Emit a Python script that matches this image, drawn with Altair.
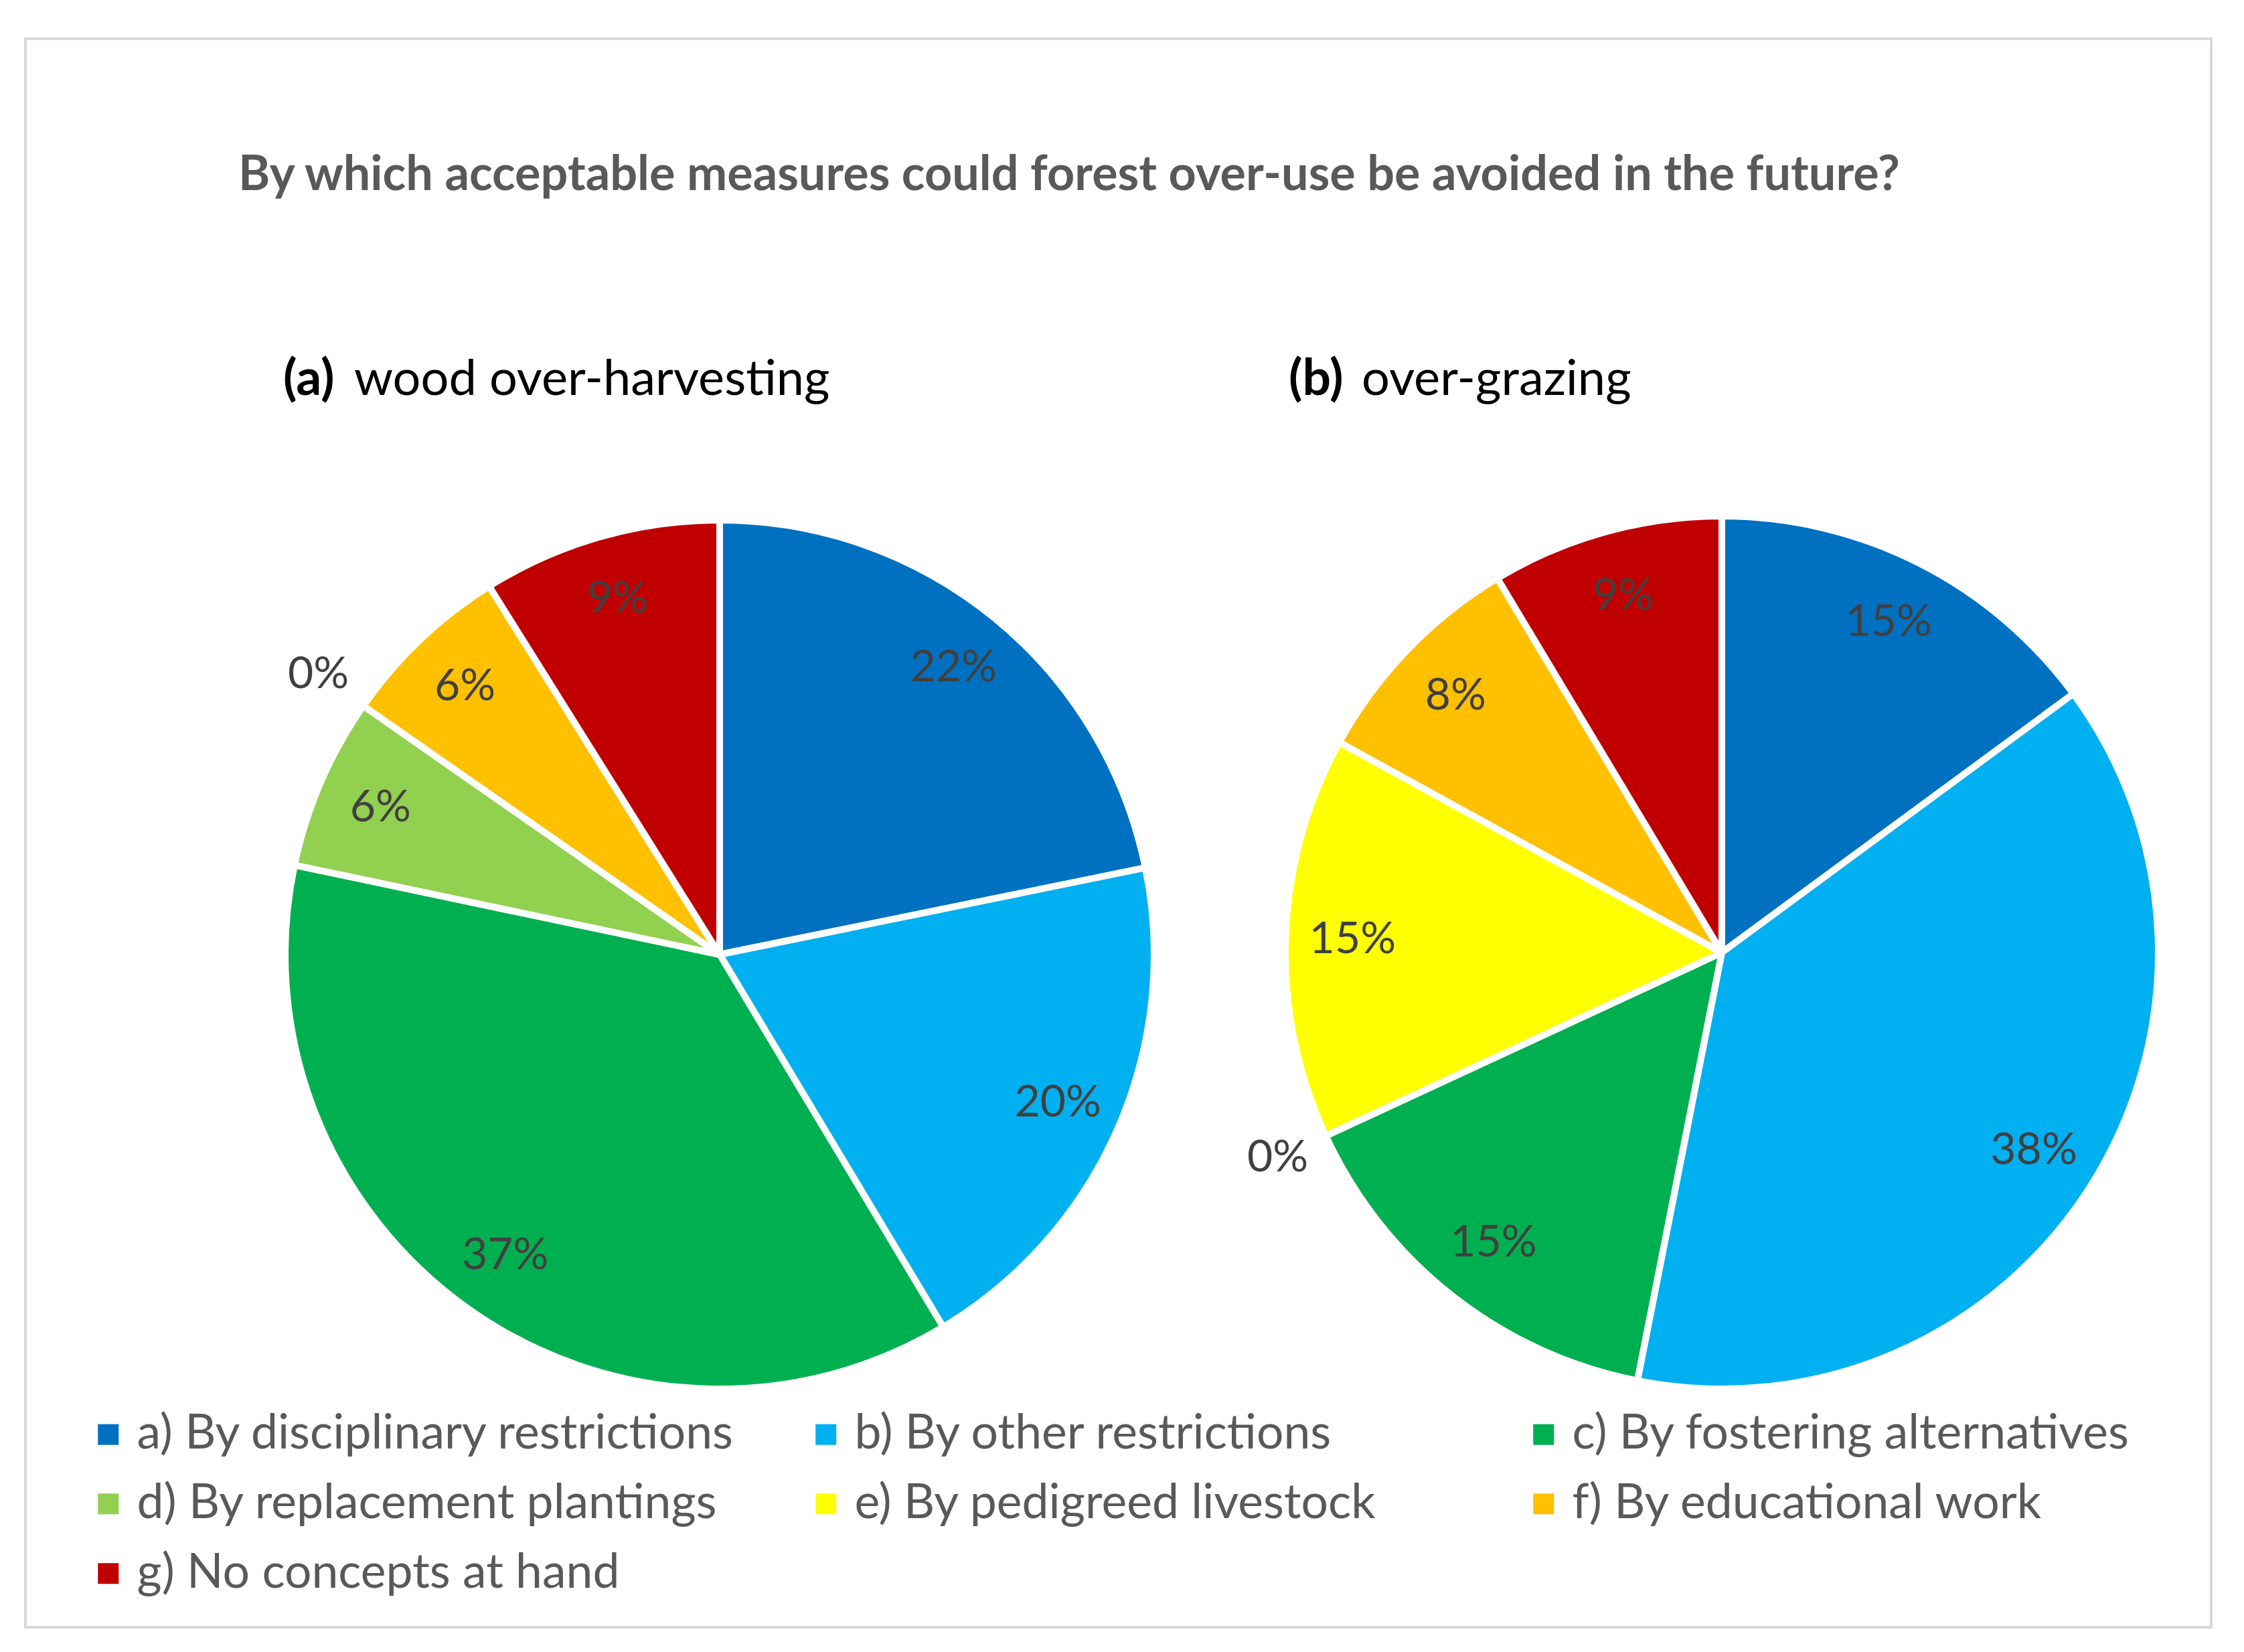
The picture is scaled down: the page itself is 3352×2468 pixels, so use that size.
import altair as alt
import pandas as pd

# ---- data ----
cat_keys = ["a", "b", "c", "d", "e", "f", "g"]
cat_names = [
    "a) By disciplinary restrictions",
    "b) By other restrictions",
    "c) By fostering alternatives",
    "d) By replacement plantings",
    "e) By pedigreed livestock",
    "f) By educational work",
    "g) No concepts at hand",
]
cat_colors = ["#0070C0", "#00B0F0", "#00B050", "#92D050", "#FFFF00", "#FFC000", "#C00000"]
wood_values = [21.8, 19.6, 36.9, 6.4, 0, 6.4, 8.9]      # (a) wood over-harvesting, %
grazing_values = [14.9, 38.2, 15.0, 0, 14.9, 8.4, 8.6]  # (b) over-grazing, %

main_title = "By which acceptable measures could forest over-use be avoided in the future?"
sub_tags = ["(a)", "(b)"]
sub_texts = ["wood over-harvesting", "over-grazing"]

FONT = "Lato"

rows = []
for pie, vals in (("a", wood_values), ("b", grazing_values)):
    for i, (k, n, v) in enumerate(zip(cat_keys, cat_names, vals)):
        lab = f"{int(v + 0.5)}%"
        rows.append({
            "pie": pie, "idx": i, "cat": n, "value": v,
            "inlab": lab if v > 0 else "",
            "outlab": lab if v == 0 else "",
        })
df = pd.DataFrame(rows)

color_scale = alt.Scale(domain=cat_names, range=cat_colors)

# view coordinates (view origin = figure border)
centers = {"a": (1037, 1368), "b": (2534, 1365)}
R = {"a": 649, "b": 652}

layers = []
for pie in ("a", "b"):
    cx, cy = centers[pie]
    base = alt.Chart(df).transform_filter(alt.datum.pie == pie).encode(
        theta=alt.Theta("value:Q", stack=True),
        order=alt.Order("idx:Q"),
        x=alt.value(cx),
        y=alt.value(cy),
    )
    arc = base.mark_arc(outerRadius=R[pie], stroke="white", strokeWidth=10,
                        strokeJoin="round").encode(
        color=alt.Color("cat:N", scale=color_scale, sort=cat_names,
                        legend=alt.Legend(title=None))
    )
    inner = base.mark_text(radius=552, font=FONT, fontSize=66, color="#404040",
                           align="center", baseline="middle").encode(text="inlab:N")
    outer = base.mark_text(radius=731, font=FONT, fontSize=66, color="#404040",
                           align="center", baseline="middle").encode(text="outlab:N")
    layers += [arc, inner, outer]

title_df = pd.DataFrame({"t": [main_title]})
title = alt.Chart(title_df).mark_text(
    font=FONT, fontSize=72, fontWeight="bold", color="#595959",
    align="center", baseline="alphabetic"
).encode(text="t:N", x=alt.value(1559), y=alt.value(226))
layers.append(title)

for i in range(2):
    layers.append(alt.Chart(pd.DataFrame({"t": [sub_tags[i]]})).mark_text(
        font=FONT, fontSize=75, fontWeight="bold", color="#000000",
        align="left", baseline="alphabetic"
    ).encode(text="t:N", x=alt.value([385, 1887][i]), y=alt.value(532)))
    layers.append(alt.Chart(pd.DataFrame({"t": [sub_texts[i]]})).mark_text(
        font=FONT, fontSize=74, color="#000000",
        align="left", baseline="alphabetic"
    ).encode(text="t:N", x=alt.value([491, 1996][i]), y=alt.value(532)))

chart = alt.layer(*layers).properties(
    width=3265, height=2373,
    padding={"left": 30, "top": 50, "right": 10, "bottom": 10},
).configure_view(
    stroke="#d9d9d9", strokeWidth=4
).configure_legend(
    orient="none", legendX=88, legendY=2049, columns=3, gridAlign="all",
    columnPadding=99, rowPadding=31, symbolType="square", symbolSize=961,
    symbolStrokeWidth=0, labelFont=FONT, labelFontSize=71.5, labelColor="#595959",
    labelOffset=7, labelLimit=0, padding=0, direction="horizontal"
)

chart.save("out.html", embed_options={"renderer": "svg", "actions": False})
